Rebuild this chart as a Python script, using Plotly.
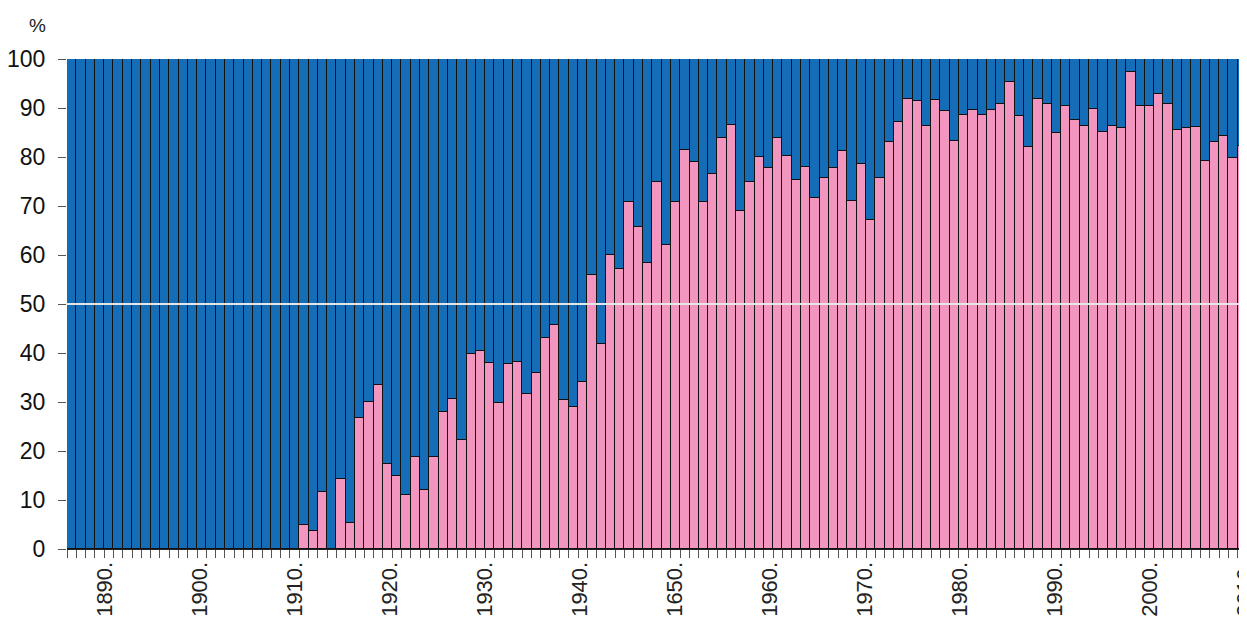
import plotly.graph_objects as go

# ---- data -------------------------------------------------------------
years = list(range(1885, 2012))  # 127 bars

pink_share = [
    0, 0, 0, 0, 0, 0, 0, 0, 0, 0,
    0, 0, 0, 0, 0, 0, 0, 0, 0, 0,
    0, 0, 0, 0, 0, 4.9, 3.6, 11.6, 0, 14.2,
    5.3, 26.7, 29.9, 33.4, 17.3, 15.0, 11.1, 18.7, 12.0, 18.7,
    28.0, 30.7, 22.3, 39.7, 40.5, 38.0, 29.7, 37.7, 38.2, 31.6,
    35.9, 43.1, 45.8, 30.5, 28.9, 34.1, 55.9, 41.9, 59.9, 57.1,
    70.9, 65.8, 58.4, 75.0, 62.1, 70.9, 81.5, 78.9, 70.8, 76.6,
    83.8, 86.6, 68.9, 75.0, 80.0, 77.8, 83.8, 80.2, 75.3, 77.9,
    71.7, 75.7, 77.8, 81.3, 71.1, 78.5, 67.2, 75.7, 83.1, 87.2,
    91.8, 91.4, 86.4, 91.6, 89.3, 83.2, 88.5, 89.5, 88.5, 89.5,
    90.8, 95.3, 88.3, 82.1, 91.8, 90.8, 85.0, 90.5, 87.5, 86.3,
    89.7, 85.2, 86.3, 85.9, 97.3, 90.5, 90.4, 92.8, 90.8, 85.6,
    86.0, 86.1, 79.1, 83.1, 84.2, 79.8, 82.3,
]
blue_share = [100 - v for v in pink_share]

tick_years = [1890, 1900, 1910, 1920, 1930, 1940, 1950, 1960, 1970, 1980, 1990, 2000, 2010]
tick_labels = ["1890.", "1900.", "1910.", "1920.", "1930.", "1940.", "1650.",
               "1960.", "1970.", "1980.", "1990.", "2000.", "2010."]

PINK = "#F296C0"
BLUE = "#146DB6"
FONT = "Liberation Sans, Arial, sans-serif"

fig = go.Figure()
fig.add_trace(go.Bar(x=years, y=pink_share, marker=dict(color=PINK, line=dict(color="#111111", width=1)),
                     showlegend=False, hoverinfo="skip"))
fig.add_trace(go.Bar(x=years, y=blue_share, marker=dict(color=BLUE, line=dict(color="#111111", width=1)),
                     showlegend=False, hoverinfo="skip"))
# invisible trace to activate the label axis
fig.add_trace(go.Scatter(x=[tick_years[0]], y=[0], xaxis="x2", mode="markers",
                         marker=dict(opacity=0), showlegend=False, hoverinfo="skip"))

fig.add_shape(type="line", xref="paper", yref="y", x0=0, x1=1, y0=50, y1=50,
              line=dict(color="#E6E6E6", width=2), layer="above")

fig.add_annotation(text="%", xref="paper", yref="paper", x=-0.0254, y=1.0, yshift=34,
                   xanchor="center", yanchor="middle",
                   showarrow=False, font=dict(size=19, color="#222222", family=FONT))

fig.update_layout(
    width=1239, height=611,
    margin=dict(l=59, r=0, t=51, b=70, autoexpand=False),
    paper_bgcolor="white", plot_bgcolor="white",
    barmode="stack", bargap=0,
    font=dict(family=FONT, color="#222222"),
    xaxis=dict(range=[years[0] - 0.5, years[-1] + 0.5], showgrid=False, zeroline=False,
               showticklabels=False, ticks="outside", tick0=years[0] - 0.5, dtick=1,
               ticklen=8, tickcolor="#555555", tickwidth=1, automargin=False,
               showline=True, linecolor="#222222", linewidth=1, mirror=False),
    xaxis2=dict(overlaying="x", anchor="y", side="bottom", automargin=False,
                range=[1885.98, 2010.19], showgrid=False, zeroline=False,
                tickmode="array", tickvals=tick_years, ticktext=tick_labels,
                tickangle=-90, ticks="outside", ticklen=3, tickcolor="rgba(0,0,0,0)",
                ticklabeloverflow="allow",
                tickfont=dict(size=22, color="#222222", family=FONT), showline=False),
    yaxis=dict(range=[0, 100], tick0=0, dtick=10, showgrid=False, zeroline=False,
               ticks="outside", ticklen=8, tickcolor="#555555", automargin=False,
               ticklabelstandoff=8,
               tickfont=dict(size=23, color="#111111", family=FONT),
               showline=False),
)

fig.write_html("out.html")
